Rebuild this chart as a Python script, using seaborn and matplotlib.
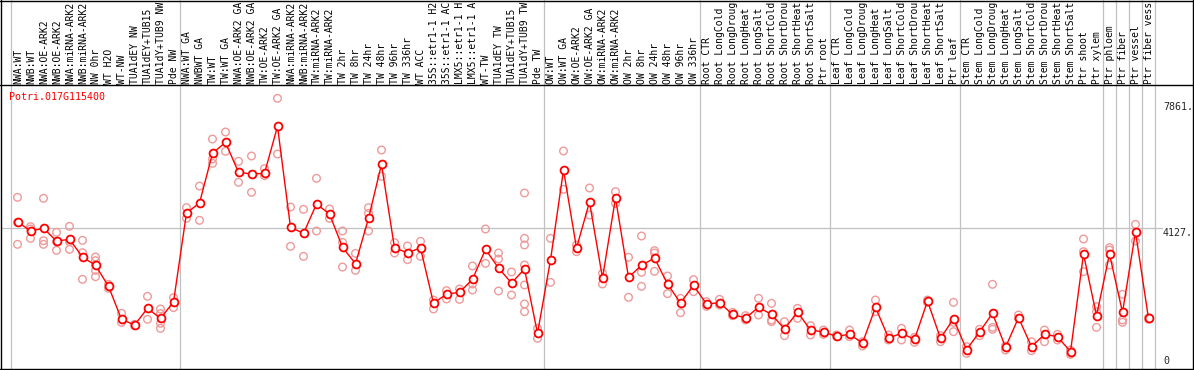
import pandas as pd
import matplotlib
matplotlib.use("Agg")
import matplotlib.pyplot as plt
from matplotlib.lines import Line2D
import seaborn as sns

# Sample labels (top row), in plotting order
samples = [
    "NWA:WT", "NWB:WT", "NWA:OE-ARK2", "NWB:OE-ARK2", "NWA:miRNA-ARK2", "NWB:miRNA-ARK2",
    "NW 0hr", "WT H2O", "WT-NW", "TUA1dEY NW", "TUA1dEY+TUB15 NW", "TUA1dY+TUB9 NW", "Pde NW",
    "NWA:WT GA", "NWBWT GA", "TW:WT", "TW:WT GA", "NWA:OE-ARK2 GA", "NWB:OE-ARK2 GA",
    "TW:OE-ARK2", "TW:OE-ARK2 GA", "NWA:miRNA-ARK2", "NWB:miRNA-ARK2", "TW:miRNA-ARK2",
    "TW:miRNA-ARK2", "TW 2hr", "TW 8hr", "TW 24hr", "TW 48hr", "TW 96hr", "TW 336hr", "WT ACC",
    "35S::etr1-1 H2O", "35S::etr1-1 ACC", "LMX5::etr1-1 H2O", "LMX5::etr1-1 ACC", "WT-TW",
    "TUA1dEY TW", "TUA1dEY+TUB15 TW", "TUA1dY+TUB9 TW", "Pde TW",
    "OW:WT", "OW:WT GA", "OW:OE-ARK2", "OW:OE-ARK2 GA", "OW:miRNA-ARK2", "OW:miRNA-ARK2",
    "OW 2hr", "OW 8hr", "OW 24hr", "OW 48hr", "OW 96hr", "OW 336hr",
    "Root CTR", "Root LongCold", "Root LongDrought", "Root LongHeat", "Root LongSalt",
    "Root ShortCold", "Root ShortDrought", "Root ShortHeat", "Root ShortSalt", "Ptr root",
    "Leaf CTR", "Leaf LongCold", "Leaf LongDrought", "Leaf LongHeat", "Leaf LongSalt",
    "Leaf ShortCold", "Leaf ShortDrought", "Leaf ShortHeat", "Leaf ShortSalt", "Ptr leaf",
    "Stem CTR", "Stem LongCold", "Stem LongDrought", "Stem LongHeat", "Stem LongSalt",
    "Stem ShortCold", "Stem ShortDrought", "Stem ShortHeat", "Stem ShortSalt", "Ptr shoot",
    "Ptr xylem", "Ptr phloem", "Ptr fiber", "Ptr vessel", "Ptr fiber vessel",
]

# number of samples in each experiment block
group_sizes = [13, 28, 12, 10, 10, 11, 1, 1, 1, 1]

# mean expression per sample
means = [
    4318, 4050, 4127, 3763, 3811, 3303, 3064, 2461, 1513, 1350, 1829, 1541, 2011,
    4567, 4854, 6281, 6597, 5735, 5687, 5706, 7056, 4155, 3983, 4825, 4538, 3581,
    3112, 4414, 5965, 3562, 3428, 3562, 1972, 2240, 2288, 2662, 3523, 2987, 2556,
    2958, 1111,
    3217, 5802, 3562, 4883, 2700, 4998, 2719, 3064, 3274, 2528, 1982, 2489,
    1953, 1991, 1656, 1551, 1857, 1656, 1235, 1723, 1206, 1149,
    1024, 1082, 833, 1857, 977, 1111, 938, 2039, 967, 1532,
    641, 1149, 1685, 708, 1561, 728, 1082, 1015, 584, 3389, 1618,
    3389, 1714, 4021, 1541,
]

# individual replicate values per sample
replicates = [
    [5017, 4299, 3667], [4174, 4107, 3839], [4988, 3772, 3667], [4012, 3744, 3495],
    [4184, 3744, 3523], [3782, 3428, 2662], [3303, 3198, 3073, 2920, 2738], [2518, 2404],
    [1685, 1427], [1369, 1331], [2173, 1513], [1810, 1676, 1398, 1254], [2135, 1848],
    [4720, 4414], [5342, 4356], [6692, 6118, 5993], [6893, 6338], [6051, 5448],
    [6204, 5160], [5840, 5639], [7861, 6262], [4739, 3609], [4672, 3322], [5563, 4050],
    [4682, 4414], [4050, 3724, 3016], [3408, 2920], [4720, 4557, 4050], [6376, 5620],
    [3715, 3418], [3619, 3227], [3753, 3322], [2068, 1810], [2336, 2097], [2384, 2087],
    [3045, 2528, 2355], [4107, 3121], [3418, 3246, 2327], [2872, 2212],
    [5141, 3839, 3648, 3073, 2499, 1953, 1733], [1254, 967],
    [3839, 2575], [6348, 5247], [3648, 3456], [5285, 4509], [2834, 2528], [5180, 4845],
    [3294, 2145], [3906, 2863, 2461], [3485, 3418, 2891], [2757, 2250], [2116, 1704],
    [2652, 2307],
    [2020, 1886], [2087, 1924], [1714, 1618], [1618, 1494], [2116, 1637],
    [1972, 1494, 1446], [1446, 1044], [1829, 1541], [1331, 1063], [1206, 1082],
    [1063, 1015], [1206, 1015], [871, 747], [2068, 1733], [1063, 919], [1254, 919],
    [996, 852], [2068, 2001], [1044, 871], [2001, 1427, 1158],
    [728, 536], [1226, 1044], [2518, 1283, 1226], [747, 632], [1637, 1541], [871, 613],
    [1206, 871], [1082, 919], [507, 632], [3820, 3456, 2882], [1877, 1733, 1283],
    [3571, 3504, 3073], [2231, 1494, 1427], [4241, 3763], [1561, 1513],
]

gene = "Potri.017G115400"
y_marks = ["7861.", "4127.", "0"]
ref_level = 4127

W, H = 1194, 370
sns.set_style("white")
plt.rcParams["font.family"] = ["DejaVu Sans Mono"]

fig = plt.figure(figsize=(W / 100, H / 100), dpi=100)
ax = fig.add_axes([11 / W, 1 / H, 1144 / W, 284 / H])
ax.set_axis_off()

pos = list(range(len(samples)))
mean_df = pd.DataFrame({"pos": pos, "value": means})
rep_df = pd.DataFrame(
    [(i, v) for i, reps in enumerate(replicates) for v in reps], columns=["pos", "value"]
)

grid = "#c0c0c0"
ax.axhline(ref_level, xmin=-10 / 1144, xmax=1151 / 1144, color=grid, lw=0.9,
           clip_on=False, zorder=1)
edge = -0.5
for n in [0] + group_sizes:
    edge += n
    ax.axvline(edge, ymin=0, ymax=369 / 284, color=grid, lw=0.9, clip_on=False, zorder=1)

sns.scatterplot(data=rep_df, x="pos", y="value", ax=ax, marker="o", s=30,
                facecolor="none", edgecolor="#ee9a9a", linewidth=1.0, zorder=2,
                clip_on=False)
sns.lineplot(data=mean_df, x="pos", y="value", ax=ax, color="red", lw=1.0,
             zorder=3, clip_on=False)
sns.scatterplot(data=mean_df, x="pos", y="value", ax=ax, marker="o", s=32,
                facecolor="white", edgecolor="red", linewidth=1.3, zorder=4,
                clip_on=False)

ax.set_xlim(-0.5, len(samples) - 0.5)
ax.set_ylim(86.2, 8243.5)

# rotated sample labels above the plot (the header row only holds ~14 chars)
for i, name in enumerate(samples):
    ax.text(i + 0.03, 1 + 1.5 / 284, name[:14].rstrip(), transform=ax.get_xaxis_transform(),
            rotation=90, ha="center", va="bottom", fontsize=7.0, color="black")

fig.text(9 / W, 1 - 92 / H, gene, color="red", fontsize=7.2, ha="left", va="top")

for label, yc in zip(y_marks, [107.5, 232.5, 361.5]):
    fig.text(1163 / W, 1 - yc / H, label, fontsize=7.2, ha="left", va="center")

# frame lines
def hline(y):
    fig.add_artist(Line2D([0, 1], [1 - y / H, 1 - y / H], color="black", lw=1.0,
                          transform=fig.transFigure))

def vline(x):
    fig.add_artist(Line2D([x / W, x / W], [0, 1], color="black", lw=1.0,
                          transform=fig.transFigure))

hline(0.5)
hline(85)
hline(369)
vline(1)
vline(1193)

fig.savefig("out.png", dpi=100)
